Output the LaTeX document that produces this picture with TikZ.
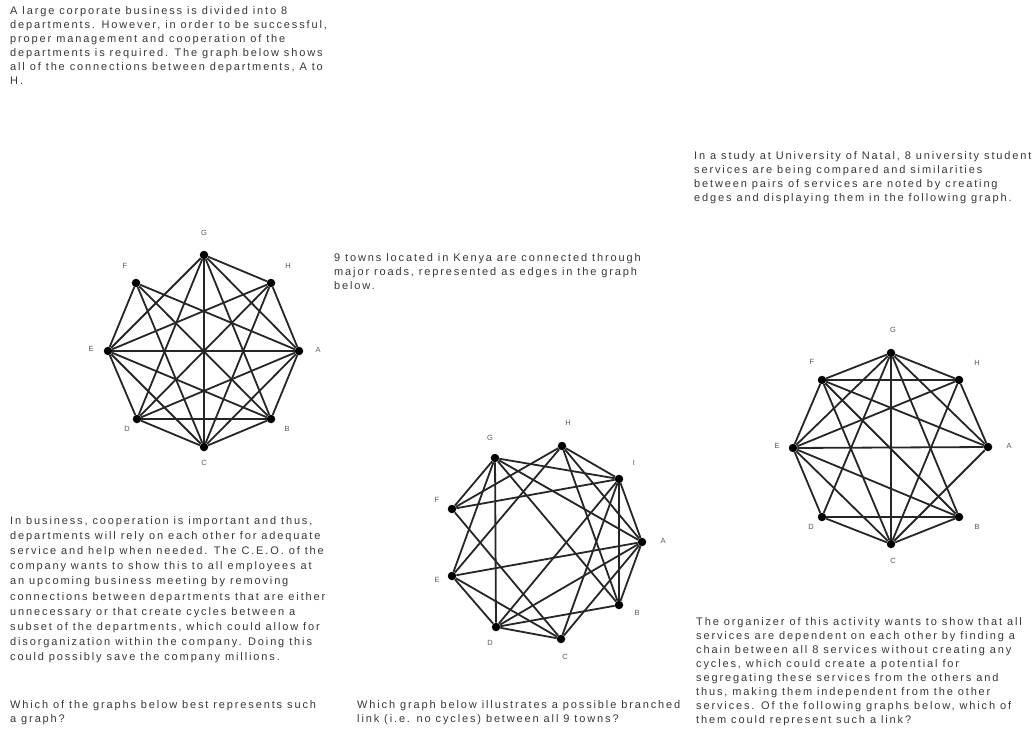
\documentclass[tikz,border=0pt]{standalone}
\usepackage{fontspec}
\setmainfont{Liberation Sans}[LetterSpace=17]
\begin{document}
\begin{tikzpicture}[x=1pt,y=-1pt,
  txt/.style={anchor=north west, inner sep=0pt, align=left, font=\fontsize{11}{14}\selectfont, text=black!78},
  vtx/.style={circle, fill=black, inner sep=0pt, minimum size=8.5pt},
  lbl/.style={font=\fontsize{7.5}{8}\selectfont, text=black!65, inner sep=0pt},
  edge/.style={line width=1.8pt, black!85}]
\useasboundingbox[fill=white] (0,0) rectangle (1032,754);

% ---------- texts ----------
\node[txt] (t1) at (10,6) {A large corporate business is divided into 8\\departments. However, in order to be successful,\\proper management and cooperation of the\\departments is required. The graph below shows\\all of the connections between departments, A to\\H.};
\node[txt, font=\fontsize{11}{15.2}\selectfont] (t2) at (10,516) {In business, cooperation is important and thus,\\departments will rely on each other for adequate\\service and help when needed. The C.E.O. of the\\company wants to show this to all employees at\\an upcoming business meeting by removing\\connections between departments that are either\\unnecessary or that create cycles between a\\subset of the departments, which could allow for\\disorganization within the company. Doing this\\could possibly save the company millions.};
\node[txt] (t3) at (10,700) {Which of the graphs below best represents such\\a graph?};
\node[txt] (t4) at (334,253) {9 towns located in Kenya are connected through\\major roads, represented as edges in the graph\\below.};
\node[txt] (t5) at (357,700) {Which graph below illustrates a possible branched\\link (i.e. no cycles) between all 9 towns?};
\node[txt] (t6) at (694,151) {In a study at University of Natal, 8 university student\\services are being compared and similarities\\between pairs of services are noted by creating\\edges and displaying them in the following graph.};
\node[txt] (t7) at (696,617) {The organizer of this activity wants to show that all\\services are dependent on each other by finding a\\chain between all 8 services without creating any\\cycles, which could create a potential for\\segregating these services from the others and\\thus, making them independent from the other\\services. Of the following graphs below, which of\\them could represent such a link?};

% ---------- graph 1 ----------
\foreach \n/\x/\y/\lx/\ly in {G/204/255/204/233, H/271/283/288/266, A/299/351/318/350, B/271/419/287/429, C/204/447/204/463, D/137/419/127/429, E/108/351/91/349, F/136/283/125/266}{
  \node[vtx] (a\n) at (\x,\y) {};
  \node[lbl] (al\n) at (\lx,\ly) {\n};
}
\foreach \u/\v in {A/B,A/C,A/D,A/E,A/F,A/G,A/H,B/C,B/D,B/E,B/F,B/G,C/D,C/E,C/F,C/G,C/H,D/E,D/G,D/H,E/F,E/G,E/H,G/H}
  \draw[edge] (a\u) -- (a\v);

% ---------- graph 2 ----------
\foreach \n/\x/\y/\lx/\ly in {G/495/458/490/438, H/562/446/568/423, I/619/479/634/463, A/642/542/663/541, B/619/605/637/613, C/561/639/565/657, D/496/627/490/643, E/452/576/437/580, F/452/509/437/500}{
  \node[vtx] (b\n) at (\x,\y) {};
  \node[lbl] (bl\n) at (\lx,\ly) {\n};
}
\foreach \u/\v in {G/F,G/E,G/D,G/I,G/A,G/B,F/H,F/I,F/C,H/I,H/A,H/B,H/E,I/A,I/B,I/D,I/C,A/E,A/D,A/C,A/B,E/D,E/C,D/C,D/B}
  \draw[edge] (b\u) -- (b\v);

% ---------- graph 3 ----------
\foreach \n/\x/\y/\lx/\ly in {G/891/353/893/330, H/959/380/977/363, A/988/447/1009/446, B/959/517/977/527, C/891/544/893/561, D/822/517/811/527, E/793/448/777/446, F/822/380/812/362}{
  \node[vtx] (c\n) at (\x,\y) {};
  \node[lbl] (cl\n) at (\lx,\ly) {\n};
}
\foreach \u/\v in {G/F,G/H,G/E,G/D,G/C,G/B,G/A,F/H,F/E,F/A,F/B,F/C,H/A,H/E,H/C,E/A,E/D,E/C,E/B,D/C,D/B,C/B,C/A}
  \draw[edge] (c\u) -- (c\v);
\end{tikzpicture}
\end{document}
